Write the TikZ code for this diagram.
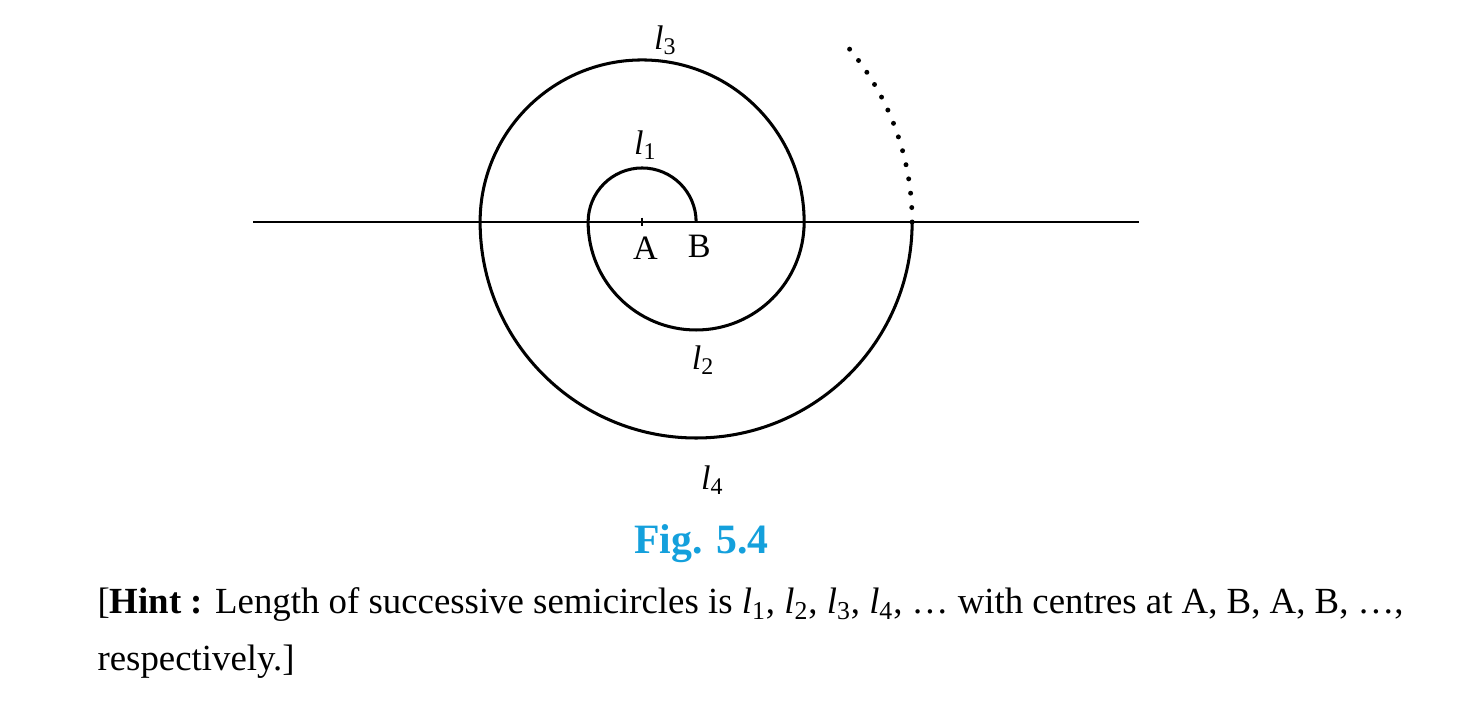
\documentclass[tikz,border=0pt]{standalone}
\usepackage{fontspec}
\setmainfont{Liberation Serif}
\usepackage{tikz}
\usetikzlibrary{calc}
\definecolor{figblue}{RGB}{20,160,220}
\newcommand{\el}[1]{\textit{l}\textsubscript{#1}}
\tikzset{curve/.style={line width=1.6pt},
  lbl/.style={font=\fontsize{18}{20}\selectfont},
  hint/.style={font=\fontsize{19.4}{22}\selectfont,anchor=west,inner sep=0pt}}

\begin{document}
\begin{tikzpicture}
            \useasboundingbox (-11.89,4.11) rectangle (15.44,-8.93);
            \coordinate (A) at (0,0);
            \coordinate (B) at (1,0);
            \coordinate (W) at (-7.2,0);
            \coordinate (E) at (9.2,0);
            \draw[line width=1.2pt] (W) -- (E);
            \draw[line width=0.8pt] (0,0.08) -- (0,-0.08);

            \draw[curve] (B) arc (0:180:1);
            \draw[curve] (-1,0) arc (180:360:2);
            \draw[curve] (3,0) arc (0:180:3);
            \draw[curve] (-3,0) arc (180:360:4);
            \draw[line width=2.6pt,line cap=round,dash pattern=on 0pt off 7.6pt] (5,0) arc (0:40:5);

            \node[lbl] (nA) at (0.06,-0.48) {A};
            \node[lbl] (nB) at (1.06,-0.46) {B};
            \node[lbl] (l1) at (0.06,1.43) {\el{1}};
            \node[lbl] (l2) at (1.13,-2.56) {\el{2}};
            \node[lbl] (l3) at (0.43,3.37) {\el{3}};
            \node[lbl] (l4) at (1.30,-4.78) {\el{4}};

            \node[font=\fontsize{22}{24}\selectfont\bfseries,text=figblue] (fig) at (1.10,-5.96) {Fig. 5.4};
            \node[hint] (h1) at (-10.09,-7.09) {[\textbf{Hint :} Length of successive semicircles is \el{1}, \el{2}, \el{3}, \el{4}, \dots\ with centres at A, B, A, B, \dots,};
            \node[hint] (h2) at (-10.09,-8.15) {respectively.]};
          \end{tikzpicture}
\end{document}
